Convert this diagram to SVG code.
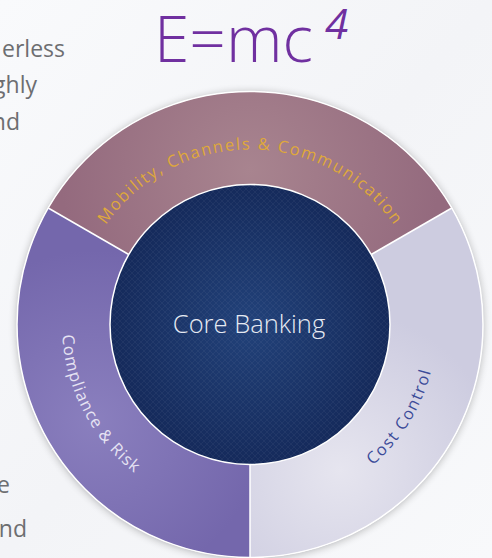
<svg xmlns="http://www.w3.org/2000/svg" width="492" height="558" viewBox="0 0 492 558">
  <defs>
    <style>
      .side { font-family: "Open Sans", "Liberation Sans", sans-serif; font-size: 23px; fill: #6d6e71; text-anchor: end; }
      .arc { font-family: "Open Sans", "Liberation Sans", sans-serif; font-size: 16.5px; }
      .div { stroke: #ffffff; stroke-width: 1.5; fill: none; }
    </style>
    <linearGradient id="bg" x1="0" y1="0" x2="1" y2="1">
      <stop offset="0" stop-color="#f9fafc"/>
      <stop offset="0.5" stop-color="#f3f4f7"/>
      <stop offset="1" stop-color="#f8f9fb"/>
    </linearGradient>
    <radialGradient id="gTop" gradientUnits="userSpaceOnUse" cx="250" cy="170" r="190">
      <stop offset="0" stop-color="#a8848f"/>
      <stop offset="1" stop-color="#946a7e"/>
    </radialGradient>
    <radialGradient id="gLeft" gradientUnits="userSpaceOnUse" cx="95" cy="420" r="170">
      <stop offset="0" stop-color="#8a7fbe"/>
      <stop offset="1" stop-color="#7467ac"/>
    </radialGradient>
    <radialGradient id="gRight" gradientUnits="userSpaceOnUse" cx="340" cy="470" r="160">
      <stop offset="0" stop-color="#e6e5ef"/>
      <stop offset="1" stop-color="#cdcce0"/>
    </radialGradient>
    <radialGradient id="gCore" gradientUnits="userSpaceOnUse" cx="250" cy="324.5" r="140">
      <stop offset="0" stop-color="#22427a"/>
      <stop offset="1" stop-color="#152a5b"/>
    </radialGradient>
    <pattern id="pCore" width="6" height="6" patternUnits="userSpaceOnUse">
      <path d="M3 0 L6 3 L3 6 L0 3 Z" fill="none" stroke="#ffffff" stroke-opacity="0.06" stroke-width="0.8"/>
    </pattern>
    <filter id="shadow" x="-10%" y="-10%" width="120%" height="120%">
      <feGaussianBlur in="SourceAlpha" stdDeviation="4"/>
      <feOffset dx="0" dy="1" result="b"/>
      <feComponentTransfer><feFuncA type="linear" slope="0.3"/></feComponentTransfer>
      <feMerge><feMergeNode/><feMergeNode in="SourceGraphic"/></feMerge>
    </filter>
    <path id="tpTop" d="M 98.45 237 A 175 175 0 0 1 401.55 237"/>
    <path id="tpLeft" d="M 87.19 230.5 A 188 188 0 0 0 250 512.5"/>
    <path id="tpRight" d="M 250 511.5 A 187 187 0 0 0 411.95 231"/>
  </defs>

  <rect width="492" height="558" fill="url(#bg)"/>

  <g id="side-text">
    <text class="side" x="65" y="57">erless</text>
    <text class="side" x="37" y="93">ghly</text>
    <text class="side" x="20" y="130">nd</text>
    <text class="side" x="10" y="493">e</text>
    <text class="side" x="27" y="537">nd</text>
  </g>

  <g id="title">
    <text x="154" y="62" font-family="'Open Sans', 'Liberation Sans', sans-serif" font-size="64" font-weight="300" fill="#7030a0">E=mc</text>
    <text x="325" y="39" font-family="'Open Sans', 'Liberation Sans', sans-serif" font-size="42" font-weight="400" font-style="italic" fill="#7030a0">4</text>
  </g>

  <g id="ring" filter="url(#shadow)">
    <circle cx="250" cy="324.5" r="233" fill="#ffffff"/>
  </g>

  <g id="mobility">
    <path d="M 48.22 208 A 233 233 0 0 1 451.78 208 L 371.24 254.5 A 140 140 0 0 0 128.76 254.5 Z" fill="url(#gTop)"/>
    <text class="arc" fill="#dfa83b"><textPath href="#tpTop" startOffset="50%" text-anchor="middle" textLength="338" lengthAdjust="spacing">Mobility, Channels &amp; Communication</textPath></text>
  </g>

  <g id="compliance">
    <path d="M 48.22 208 A 233 233 0 0 0 250 557.5 L 250 464.5 A 140 140 0 0 1 128.76 254.5 Z" fill="url(#gLeft)"/>
    <text class="arc" fill="#e6e3f3"><textPath href="#tpLeft" startOffset="48%" text-anchor="middle" textLength="160" lengthAdjust="spacing">Compliance &amp; Risk</textPath></text>
  </g>

  <g id="cost-control">
    <path d="M 250 557.5 A 233 233 0 0 0 451.78 208 L 371.24 254.5 A 140 140 0 0 1 250 464.5 Z" fill="url(#gRight)"/>
    <text class="arc" fill="#3b4b99"><textPath href="#tpRight" startOffset="48.5%" text-anchor="middle" textLength="112" lengthAdjust="spacing">Cost Control</textPath></text>
  </g>

  <g id="connectors">
    <circle cx="250" cy="324.5" r="233" class="div"/>
    <line x1="48.22" y1="208" x2="128.76" y2="254.5" class="div"/>
    <line x1="451.78" y1="208" x2="371.24" y2="254.5" class="div"/>
    <line x1="250" y1="557.5" x2="250" y2="464.5" class="div"/>
  </g>

  <g id="core-banking">
    <circle cx="250" cy="324.5" r="140" fill="url(#gCore)"/>
    <circle cx="250" cy="324.5" r="140" fill="url(#pCore)" stroke="#ffffff" stroke-width="1.5"/>
    <text x="249" y="333" text-anchor="middle" font-family="'Open Sans', 'Liberation Sans', sans-serif" font-size="25.5" font-weight="300" fill="#e6eaf2">Core Banking</text>
  </g>
</svg>
